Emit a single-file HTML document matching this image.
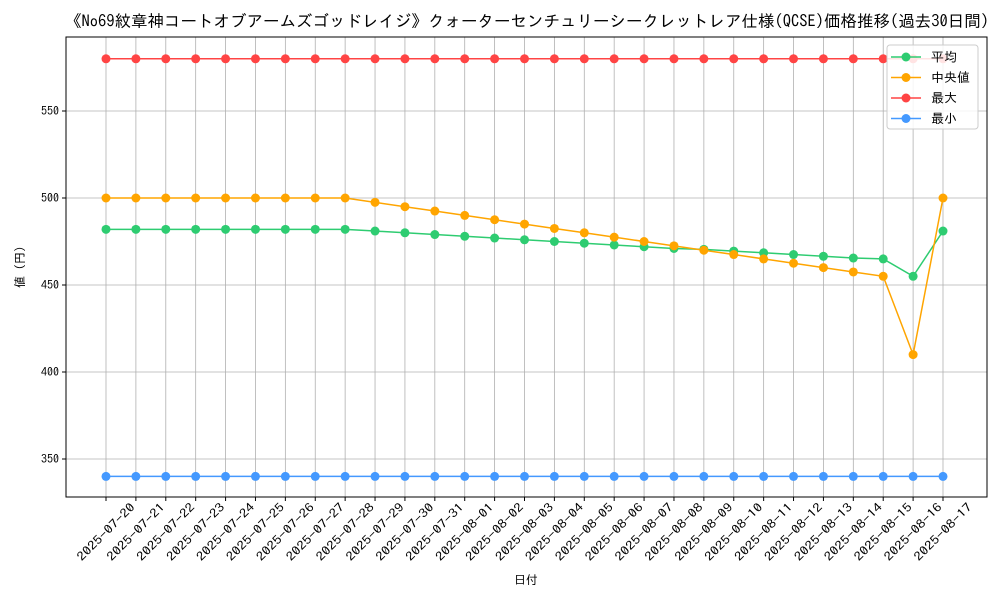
<!DOCTYPE html>
<html><head><meta charset="utf-8"><style>
body{margin:0;background:#fff}
svg{display:block;font-family:"IPAGothic","Liberation Sans","Noto Sans CJK JP",sans-serif}
</style></head><body>
<svg id="chart" width="1000" height="600" viewBox="0 0 1000 600">
<rect width="1000" height="600" fill="#fff"/>
<text x="527" y="27" text-anchor="middle" font-size="16.5" fill="#000">《No69紋章神コートオブアームズゴッドレイジ》クォーターセンチュリーシークレットレア仕様(QCSE)価格推移(過去30日間)</text>
<g id="grid"></g>
<g id="axes"></g>
<g id="series"></g>
<rect x="66" y="37" width="921" height="460" fill="none" stroke="#000" stroke-width="1"/>
<text x="526" y="584" text-anchor="middle" font-size="12">日付</text>
<text transform="translate(24,267) rotate(-90)" text-anchor="middle" font-size="12">値 (円)</text>
<g>
<rect x="887" y="45" width="91" height="84" rx="3" fill="#fff" fill-opacity="0.85" stroke="#ccc"/>
<g id="legend-items"></g>
</g>
</svg>
<script>
const dates=["2025-07-20","2025-07-21","2025-07-22","2025-07-23","2025-07-24","2025-07-25","2025-07-26","2025-07-27","2025-07-28","2025-07-29","2025-07-30","2025-07-31","2025-08-01","2025-08-02","2025-08-03","2025-08-04","2025-08-05","2025-08-06","2025-08-07","2025-08-08","2025-08-09","2025-08-10","2025-08-11","2025-08-12","2025-08-13","2025-08-14","2025-08-15","2025-08-16","2025-08-17"];
const meanVals=[482,482,482,482,482,482,482,482,482,481,480,479,478,477,476,475,474,473,472,471,470.5,469.5,468.5,467.5,466.5,465.5,465,455,481];
const medianVals=[500,500,500,500,500,500,500,500,500,497.5,495,492.5,490,487.5,485,482.5,480,477.5,475,472.5,470,467.5,465,462.5,460,457.5,455,410,500];
const maxVals=[580,580,580,580,580,580,580,580,580,580,580,580,580,580,580,580,580,580,580,580,580,580,580,580,580,580,580,580,580];
const minVals=[340,340,340,340,340,340,340,340,340,340,340,340,340,340,340,340,340,340,340,340,340,340,340,340,340,340,340,340,340];
const yTicks=[350,400,450,500,550];
const seriesNames=["平均","中央値","最大","最小"];
const NS="http://www.w3.org/2000/svg";
function xs(i){return 106+i*(943-106)/(dates.length-1);}
function ys(v){return 198-(v-500)*1.74;}
function mk(tag,attrs,parent){const e=document.createElementNS(NS,tag);for(const k in attrs)e.setAttribute(k,attrs[k]);parent.appendChild(e);return e;}
const grid=document.getElementById('grid'),axes=document.getElementById('axes'),ser=document.getElementById('series');
dates.forEach((d,i)=>{const x=xs(i);
 const g=mk('line',{x1:x,x2:x,y1:37,y2:497,stroke:'#b0b0b0','stroke-width':0.8},grid);
 
 
 const t=mk('line',{x1:x,x2:x,y1:497,y2:501,stroke:'#000'},axes);
 
 
 const l=mk('text',{transform:`translate(${x},${532}) rotate(-45)`,'text-anchor':'middle','dominant-baseline':'central','font-size':12,textLength:76,lengthAdjust:'spacingAndGlyphs'},axes);
 l.textContent=d;
 
 
});
yTicks.forEach(v=>{const y=ys(v);
 const g=mk('line',{x1:66,x2:987,y1:y,y2:y,stroke:'#b0b0b0','stroke-width':0.8},grid);
 
 
 const t=mk('line',{x1:62,x2:66,y1:y,y2:y,stroke:'#000'},axes);
 
 
 const l=mk('text',{x:59,y:y+4,'text-anchor':'end','font-size':12},axes);
 l.textContent=v;
 
 
});
const all=[[meanVals,'#2ecc71','mean'],[medianVals,'#ffa500','median'],[maxVals,'#ff4444','max'],[minVals,'#4499ff','min']];
all.forEach(([vals,c,n])=>{
 const g=mk('g',{},ser);
 
 
 const p=mk('polyline',{points:vals.map((v,i)=>xs(i)+','+ys(v)).join(' '),fill:'none',stroke:c,'stroke-width':1.5},g);
 
 
 vals.forEach((v,i)=>{const m=mk('circle',{cx:xs(i),cy:ys(v),r:4.5,fill:c},g);
  
  });
});
const li=document.getElementById('legend-items');
all.forEach(([v,c,n],k)=>{const y=57+k*20.5;
 const g=mk('g',{},li);
 
 
 mk('line',{x1:891,x2:921,y1:y,y2:y,stroke:c,'stroke-width':1.5},g);
 mk('circle',{cx:906,cy:y,r:4.5,fill:c},g);
 const t=mk('text',{x:931,y:y+4.5,'font-size':13},g);
 t.textContent=seriesNames[k];
});
</script>
</body></html>
